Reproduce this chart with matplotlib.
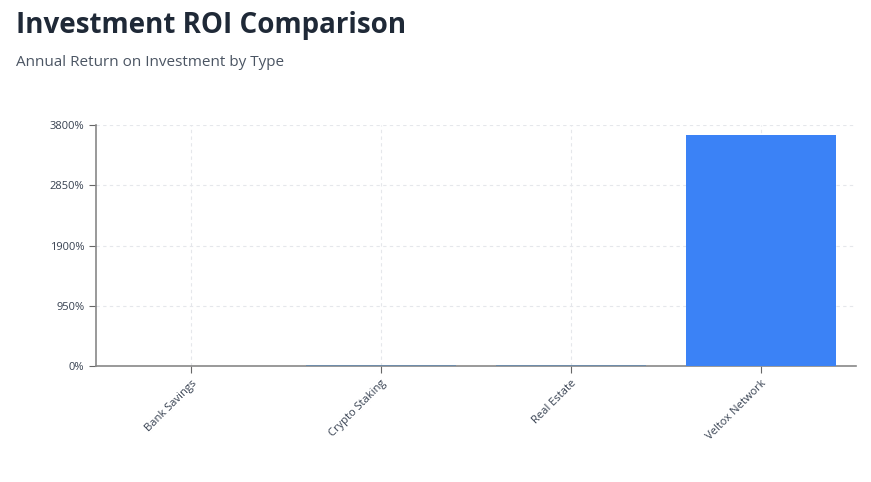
import matplotlib.pyplot as plt
from matplotlib.ticker import FuncFormatter

categories = ["Bank Savings", "Crypto Staking", "Real Estate", "Veltox Network"]
roi_pct = [4.5, 12.0, 8.0, 3650.0]
bar_colors = ["#6e8caa", "#6e8caa", "#6e8caa", "#3b82f6"]
y_ticks = [0, 950, 1900, 2850, 3800]

plt.rcParams["font.family"] = ["Open Sans", "DejaVu Sans"]

fig = plt.figure(figsize=(8.71, 4.82), dpi=100)
ax = fig.add_axes([96 / 871, 1 - 366 / 482, 760 / 871, 241 / 482])

x = list(range(len(categories)))
ax.bar(x, roi_pct, width=0.79, color=bar_colors, zorder=3)

ax.set_xlim(-0.5, len(categories) - 0.5)
ax.set_ylim(0, 3800)
ax.set_yticks(y_ticks)
ax.yaxis.set_major_formatter(FuncFormatter(lambda v, _: f"{v:.0f}%"))
ax.set_xticks(x)
ax.set_xticklabels(categories, rotation=45, ha="right", rotation_mode="anchor")

ax.grid(True, color="#e5e7eb", linestyle=(0, (3, 3)), linewidth=0.8, zorder=0)
for side in ("top", "right"):
    ax.spines[side].set_visible(False)
for side in ("left", "bottom"):
    ax.spines[side].set_color("#888888")
    ax.spines[side].set_linewidth(1.2)
ax.tick_params(axis="both", colors="#666666", labelsize=8, length=5, labelcolor="#374151")

fig.text(16 / 871, 1 - 26 / 482, "Investment ROI Comparison", fontsize=20,
         fontweight="bold", color="#1f2937", va="center")
fig.text(16 / 871, 1 - 63 / 482, "Annual Return on Investment by Type", fontsize=11,
         color="#4b5563", va="center")

fig.savefig("out.png", dpi=100)
